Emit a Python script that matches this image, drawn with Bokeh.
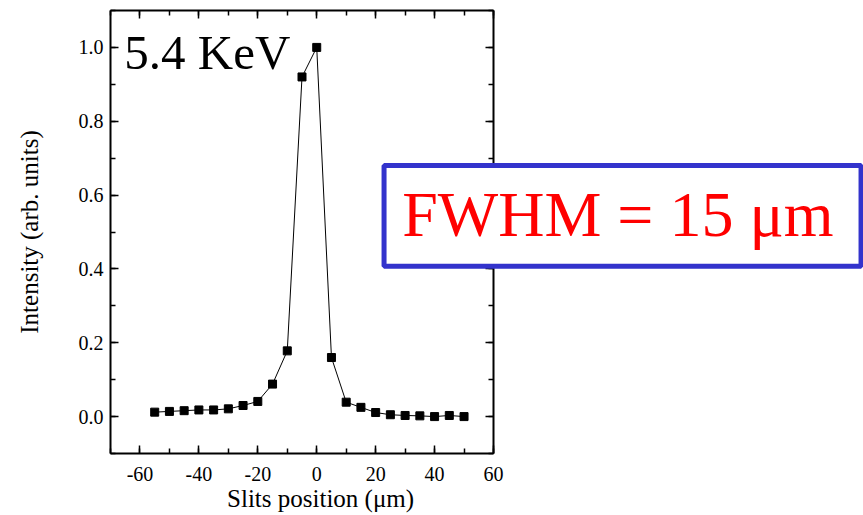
from bokeh.plotting import figure
from bokeh.models import (Range1d, SingleIntervalTicker, LinearAxis, Label,
                          ColumnDataSource, PrintfTickFormatter)
from bokeh.core.properties import value
from bokeh.embed import file_html
from bokeh.resources import INLINE

# Data
positions = [-55, -50, -45, -40, -35, -30, -25, -20, -15, -10, -5, 0,
             5, 10, 15, 20, 25, 30, 35, 40, 45, 50]
intensity = [0.012, 0.014, 0.016, 0.018, 0.018, 0.021, 0.030, 0.041, 0.088, 0.178, 0.920, 1.000,
             0.160, 0.039, 0.025, 0.011, 0.005, 0.003, 0.002, 0.000, 0.003, 0.000]
energy_label = "5.4 KeV"
fwhm_label = "FWHM = 15 μm"
x_title = "Slits position (μm)"
y_title = "Intensity (arb. units)"

FONT = "Liberation Serif"

src = ColumnDataSource(dict(x=positions, y=intensity))

p = figure(width=863, height=515, output_backend="svg", toolbar_location=None,
           x_range=Range1d(-70, 60), y_range=Range1d(-0.1, 1.1),
           min_border_left=110, min_border_right=370, min_border_top=10, min_border_bottom=62)
p.xgrid.visible = False
p.ygrid.visible = False
p.outline_line_color = None
p.background_fill_color = "white"
p.border_fill_color = "white"

p.line("x", "y", source=src, line_color="black", line_width=1)
p.scatter("x", "y", source=src, marker="square", size=8, fill_color="black", line_color="black")

def style_axis(ax, show_labels=True):
    ax.axis_line_width = 2
    ax.axis_line_color = "black"
    ax.major_tick_in = 8
    ax.major_tick_out = 0
    ax.minor_tick_in = 5
    ax.minor_tick_out = 0
    ax.major_tick_line_width = 1.5
    ax.minor_tick_line_width = 1.5
    ax.major_tick_line_color = "black"
    ax.minor_tick_line_color = "black"
    ax.major_label_text_font = FONT
    ax.axis_label_text_font = FONT
    ax.axis_label_text_font_style = "normal"
    ax.axis_label_text_color = "black"
    if show_labels:
        ax.major_label_text_color = "black"
        ax.major_label_text_font_size = "20px"
        ax.axis_label_text_font_size = "25px"
    else:
        ax.major_label_text_color = None
        ax.major_label_text_font_size = "0px"
        ax.major_label_standoff = 0

p.xaxis.ticker = SingleIntervalTicker(interval=20, num_minor_ticks=2)
p.yaxis.ticker = SingleIntervalTicker(interval=0.2, num_minor_ticks=2)
p.xaxis.formatter = PrintfTickFormatter(format="%d")
p.yaxis.formatter = PrintfTickFormatter(format="%.1f")
p.yaxis.axis_label = y_title
style_axis(p.xaxis[0])
style_axis(p.yaxis[0])
p.xaxis.major_label_standoff = 13
p.yaxis.major_label_standoff = 7
p.yaxis.axis_label_standoff = 33

top = LinearAxis(ticker=SingleIntervalTicker(interval=20, num_minor_ticks=2))
right = LinearAxis(ticker=SingleIntervalTicker(interval=0.2, num_minor_ticks=2))
style_axis(top, False)
style_axis(right, False)
p.add_layout(top, "above")
p.add_layout(right, "right")

# x-axis title (placed slightly right of centre, as in the original)
p.text(x=[1.3], y=[-0.222], text=[x_title], text_font=value(FONT),
       text_font_size="25px", text_color="black", text_align="center",
       text_baseline="alphabetic", level="overlay")

p.add_layout(Label(x=-65.3, y=0.985, text=energy_label, text_font=FONT,
                   text_font_size="49px", text_color="black", text_baseline="alphabetic"))

# FWHM annotation box (drawn at overlay level so it may extend beyond the frame)
p.quad(left=[22.85], right=[184.75], top=[0.680], bottom=[0.407],
       fill_color="white", line_color="#3333cc", line_width=5, level="overlay")
p.text(x=[29.0], y=[0.547], text=[fwhm_label], text_font=value(FONT),
       text_font_size="64px", text_color="#ff0000", text_baseline="alphabetic",
       level="overlay")

open("out.html", "w").write(file_html(p, INLINE))
